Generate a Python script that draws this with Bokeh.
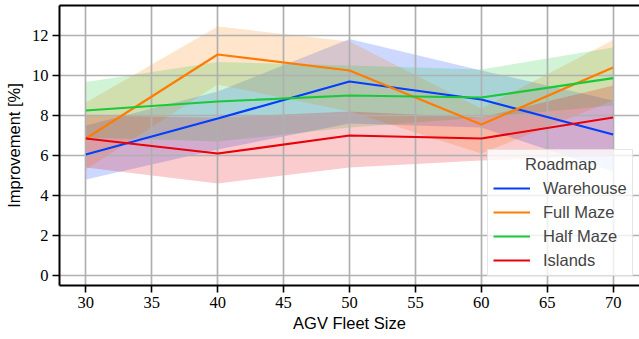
from bokeh.plotting import figure
from bokeh.models import FixedTicker, LinearAxis, Legend, LegendItem, Range1d
from bokeh.embed import file_html
from bokeh.resources import INLINE

fleet_size = [30, 40, 50, 60, 70]
x_ticks = [30, 35, 40, 45, 50, 55, 60, 65, 70]
y_ticks = [0, 2, 4, 6, 8, 10, 12]

roadmaps = ["Warehouse", "Full Maze", "Half Maze", "Islands"]

warehouse_mean = [6.05, 7.85, 9.7, 8.8, 7.05]
warehouse_low = [4.8, 6.3, 7.6, 7.4, 5.2]
warehouse_high = [7.5, 9.2, 11.83, 10.25, 8.75]

full_maze_mean = [6.85, 11.05, 10.25, 7.55, 10.4]
full_maze_low = [5.3, 9.55, 8.2, 6.1, 8.75]
full_maze_high = [8.65, 12.45, 11.7, 8.35, 11.78]

half_maze_mean = [8.25, 8.7, 9.0, 8.9, 9.87]
half_maze_low = [6.9, 6.7, 7.4, 7.9, 8.5]
half_maze_high = [9.67, 10.67, 10.5, 10.3, 11.4]

islands_mean = [6.85, 6.1, 7.0, 6.85, 7.9]
islands_low = [5.4, 4.6, 5.4, 5.75, 6.0]
islands_high = [8.0, 7.9, 8.2, 7.9, 9.5]

colors = ["#023eff", "#ff7c00", "#1ac938", "#e8000b"]

series = [
    (warehouse_mean, warehouse_low, warehouse_high),
    (full_maze_mean, full_maze_low, full_maze_high),
    (half_maze_mean, half_maze_low, half_maze_high),
    (islands_mean, islands_low, islands_high),
]

p = figure(width=639, height=339, output_backend="svg", toolbar_location=None,
           x_range=Range1d(28, 72), y_range=Range1d(-0.5, 13.5),
           min_border_left=59, min_border_right=0, min_border_top=5,
           min_border_bottom=54)
p.outline_line_color = None
p.background_fill_color = "white"
p.border_fill_color = "white"

TICK_FONT = "Liberation Serif"
LABEL_FONT = "Liberation Sans"

for ax in (p.xaxis[0], p.yaxis[0]):
    ax.axis_line_width = 2
    ax.axis_line_color = "black"
    ax.major_tick_out = 7
    ax.major_tick_in = 0
    ax.major_tick_line_width = 1.6
    ax.major_tick_line_color = "black"
    ax.minor_tick_out = 0
    ax.minor_tick_in = 0
    ax.major_label_text_font = TICK_FONT
    ax.major_label_text_font_size = "16.5px"
    ax.major_label_text_color = "black"
    ax.axis_label_text_font = LABEL_FONT
    ax.axis_label_text_font_size = "16.5px"
    ax.axis_label_text_font_style = "normal"
    ax.axis_label_text_color = "black"

p.xaxis.ticker = FixedTicker(ticks=x_ticks)
p.yaxis.ticker = FixedTicker(ticks=y_ticks)
p.xaxis.axis_label = "AGV Fleet Size"
p.yaxis.axis_label = "Improvement [%]"
p.xaxis.major_label_standoff = 4
p.yaxis.major_label_standoff = 4
p.xaxis.axis_label_standoff = 3
p.yaxis.axis_label_standoff = 6

top = LinearAxis(ticker=FixedTicker(ticks=[]), major_tick_out=0, major_tick_in=0,
                 minor_tick_out=0, minor_tick_in=0,
                 major_label_text_font_size="0px",
                 axis_line_width=2, axis_line_color="black")
p.add_layout(top, "above")

p.xgrid.ticker = FixedTicker(ticks=x_ticks)
p.ygrid.ticker = FixedTicker(ticks=y_ticks)
for g in (p.xgrid[0], p.ygrid[0]):
    g.grid_line_color = "#b0b0b0"
    g.grid_line_width = 1.7

for (m, lo, hi), c in zip(series, colors):
    p.varea(x=fleet_size, y1=lo, y2=hi, fill_color=c, fill_alpha=0.2, level="image")

items = []
for (m, lo, hi), c, name in zip(series, colors, roadmaps):
    r = p.line(x=fleet_size, y=m, line_color=c, line_width=2.2)
    items.append(LegendItem(label=name, renderers=[r]))

legend = Legend(items=items, location=(428, 9),
                title="\u00a0" * 7 + "Roadmap",
                title_text_font=LABEL_FONT, title_text_font_size="16.5px",
                title_text_font_style="normal", title_standoff=4,
                label_text_font=LABEL_FONT, label_text_font_size="16.5px",
                glyph_width=37, glyph_height=20, label_height=20,
                label_width=84, label_standoff=13,
                padding=5, spacing=4, margin=0,
                border_line_color="#cccccc", border_line_width=1,
                background_fill_color="white", background_fill_alpha=0.8)
p.add_layout(legend)

open("out.html", "w").write(file_html(p, INLINE))
